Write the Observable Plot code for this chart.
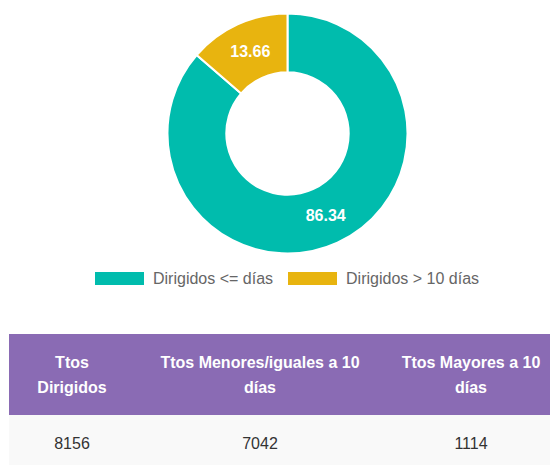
<!DOCTYPE html>
<html><head><meta charset="utf-8">
<script src="https://cdn.jsdelivr.net/npm/d3@7"></script>
<script src="https://cdn.jsdelivr.net/npm/@observablehq/plot@0.6"></script>
<style>
html,body{margin:0;padding:0;background:#fff}
body{font-family:"Liberation Sans",Arial,sans-serif;overflow:hidden;width:550px;height:465px}
#chart svg{display:block}
#legend{padding-left:95px;height:33px}
.lg-swatches{font-family:"Liberation Sans",Arial,sans-serif !important;font-size:16px !important;color:#666 !important;margin:0 !important;min-height:33px !important}
.lg-swatch > svg{margin-right:9px !important}
.lg-swatches-wrap .lg-swatch{margin-right:15px !important}
table{border-collapse:collapse;table-layout:fixed;margin:39px 0 0 9px;width:548px}
th{background:#8a6bb4;color:#fff;font-weight:bold;font-size:16px;line-height:25px;height:81px;padding:0;text-align:center;white-space:nowrap}
td{background:#f9f9f9;color:#333;font-size:16px;line-height:25px;padding:16px 0;text-align:center}
</style></head>
<body>
<div id="chart"></div>
<div id="legend"></div>
<table id="tbl"><colgroup><col style="width:126px"><col style="width:250px"><col style="width:172px"></colgroup><thead><tr></tr></thead><tbody><tr></tr></tbody></table>
<script>
// ---- data ----
const labels = ["Dirigidos <= días", "Dirigidos > 10 días"];
const percents = [86.34, 13.66];
const colors = ["#00bcad", "#e8b40f"];
const headerLines = [["Ttos", "Dirigidos"], ["Ttos Menores/iguales a 10", "días"], ["Ttos Mayores a 10", "días"]];
const counts = [8156, 7042, 1114];

// ---- donut ----
const innerRatio = 0.51;
const rows = labels.map((label, i) => ({label, value: percents[i]}));
const arcs = d3.pie().sort(null).value(d => d.value)(rows);
const labelR = (innerRatio + 1) / 2;
const slices = arcs.map(a => {
  const mid = (a.startAngle + a.endAngle) / 2;
  return {label: a.data.label, value: a.data.value, lx: labelR * Math.sin(mid), ly: labelR * Math.cos(mid)};
});

function donut(index, scales) {
  const cx = scales.x(0), cy = scales.y(0);
  const r = scales.x(1) - scales.x(0);
  const col = scales.color || (l => colors[labels.indexOf(l)]);
  const arc = d3.arc().innerRadius(r * innerRatio).outerRadius(r);
  const g = d3.create("svg:g").attr("transform", `translate(${cx},${cy})`);
  g.selectAll("path").data(arcs).join("path")
    .attr("d", arc)
    .attr("fill", d => col(d.data.label))
    .attr("stroke", "white")
    .attr("stroke-width", 2);
  return g.node();
}

const chart = Plot.plot({
  width: 550, height: 262,
  marginLeft: 167.5, marginRight: 142.5, marginTop: 14, marginBottom: 9,
  x: {domain: [-1, 1], axis: null},
  y: {domain: [-1, 1], axis: null},
  color: {domain: labels, range: colors},
  marks: [
    donut,
    Plot.text(slices, {x: "lx", y: "ly", text: d => d.value.toFixed(2), fill: "white",
      fontWeight: "bold", fontSize: 16, fontFamily: "Liberation Sans, Arial, sans-serif"})
  ]
});
document.getElementById("chart").append(chart);

const legend = Plot.legend({
  color: {type: "ordinal", domain: labels, range: colors},
  legend: "swatches", swatchWidth: 49, swatchHeight: 13, className: "lg"
});
document.getElementById("legend").append(legend);

// ---- table ----
const hr = document.querySelector("#tbl thead tr");
headerLines.forEach(lines => {
  const th = document.createElement("th");
  lines.forEach((t, i) => { if (i) th.append(document.createElement("br")); th.append(t); });
  hr.append(th);
});
const br = document.querySelector("#tbl tbody tr");
counts.forEach(c => { const td = document.createElement("td"); td.textContent = c; br.append(td); });
</script>
</body></html>
